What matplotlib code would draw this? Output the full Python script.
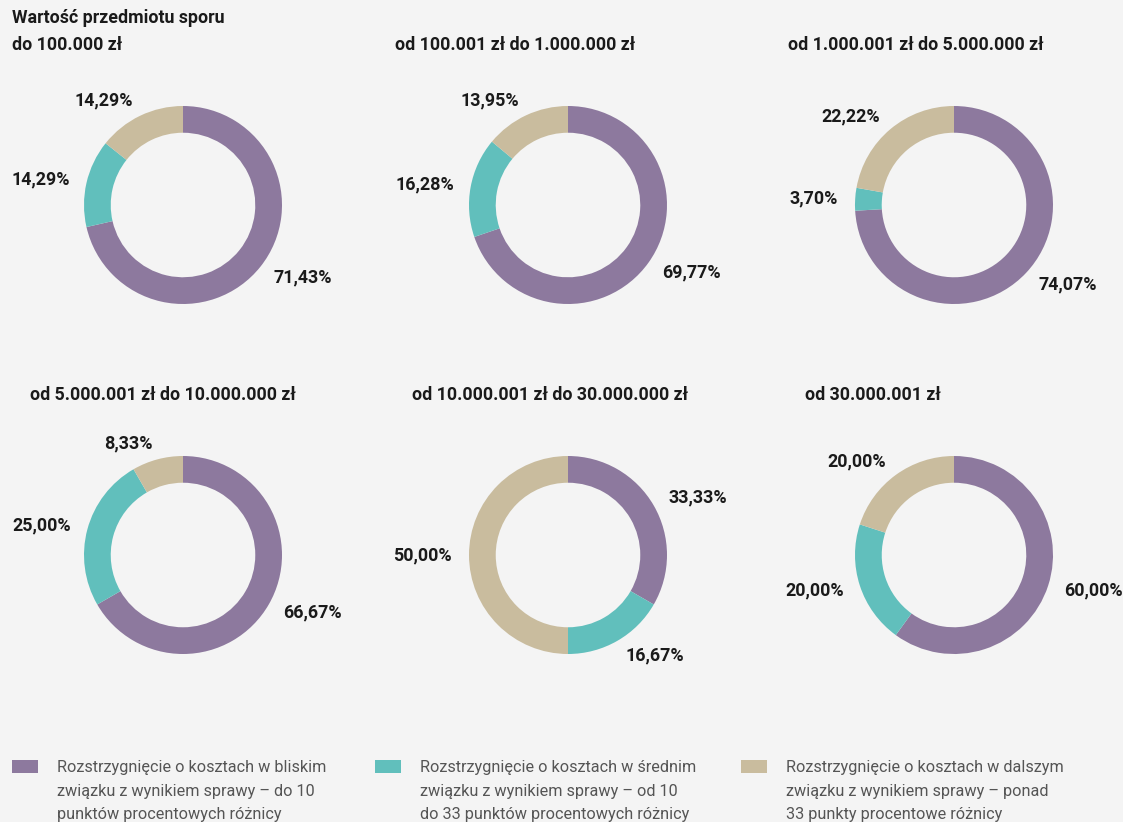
import numpy as np
import matplotlib
matplotlib.use("Agg")
import matplotlib.pyplot as plt
from matplotlib.patches import Rectangle

plt.rcParams['font.family'] = ['Roboto', 'DejaVu Sans']

# data
titles = ["do 100.000 zł",
          "od 100.001 zł do 1.000.000 zł",
          "od 1.000.001 zł do 5.000.000 zł",
          "od 5.000.001 zł do 10.000.000 zł",
          "od 10.000.001 zł do 30.000.000 zł",
          "od 30.000.001 zł"]
close_vals = [71.43, 69.77, 74.07, 66.67, 33.33, 60.00]
mid_vals = [14.29, 16.28, 3.70, 25.00, 16.67, 20.00]
far_vals = [14.29, 13.95, 22.22, 8.33, 50.00, 20.00]
legend_labels = ["Rozstrzygnięcie o kosztach w bliskim\nzwiązku z wynikiem sprawy – do 10\npunktów procentowych różnicy",
                 "Rozstrzygnięcie o kosztach w średnim\nzwiązku z wynikiem sprawy – od 10\ndo 33 punktów procentowych różnicy",
                 "Rozstrzygnięcie o kosztach w dalszym\nzwiązku z wynikiem sprawy – ponad\n33 punkty procentowe różnicy"]
colors = ["#8d799e", "#61bfbc", "#c9bc9e"]

W, H = 1123, 822
bg = "#f4f4f4"
fig = plt.figure(figsize=(W / 100, H / 100), dpi=100, facecolor=bg)
ax = fig.add_axes([0, 0, 1, 1])
ax.set_facecolor(bg)

centers = [(183, 205), (568, 205), (954, 205), (183, 555), (568, 555), (954, 555)]
title_pos = [(12, 45), (395, 45), (788, 45), (30, 395), (412, 395), (805, 395)]
R = 99
txt = "#1a1a1a"

ax.text(12, H - 18, "Wartość przedmiotu sporu", fontsize=12.8, fontweight='bold',
        color=txt, ha='left', va='center')

for i in range(6):
    vals = [close_vals[i], mid_vals[i], far_vals[i]]
    cx, cy = centers[i]
    wedges, _ = ax.pie(vals, colors=colors, startangle=90, counterclock=False,
                       center=(cx, H - cy), radius=R, normalize=True,
                       wedgeprops=dict(width=R * 0.27, linewidth=0))
    for w, v in zip(wedges, vals):
        ang = np.deg2rad((w.theta1 + w.theta2) / 2)
        lx = cx + 1.17 * R * np.cos(ang)
        ly = H - cy + 1.17 * R * np.sin(ang)
        ha = 'left' if np.cos(ang) >= 0 else 'right'
        ax.text(lx, ly, f"{v:.2f}%".replace(".", ","), fontsize=12.9, fontweight='bold',
                color=txt, ha=ha, va='center')
    tx, ty = title_pos[i]
    ax.text(tx, H - ty, titles[i], fontsize=12.8, fontweight='bold',
            color=txt, ha='left', va='center')

# legend
leg_x = [12, 375, 741]
for x, c, lab in zip(leg_x, colors, legend_labels):
    ax.add_patch(Rectangle((x, H - 773), 26, 13, facecolor=c, edgecolor='none'))
    ax.text(x + 45, H - 760, lab, fontsize=11.7, fontweight='normal', color="#555555",
            ha='left', va='top', linespacing=1.72)

ax.set_xlim(0, W)
ax.set_ylim(0, H)
ax.set_aspect('auto')
ax.axis('off')

fig.savefig("out.png", dpi=100, facecolor=bg)
